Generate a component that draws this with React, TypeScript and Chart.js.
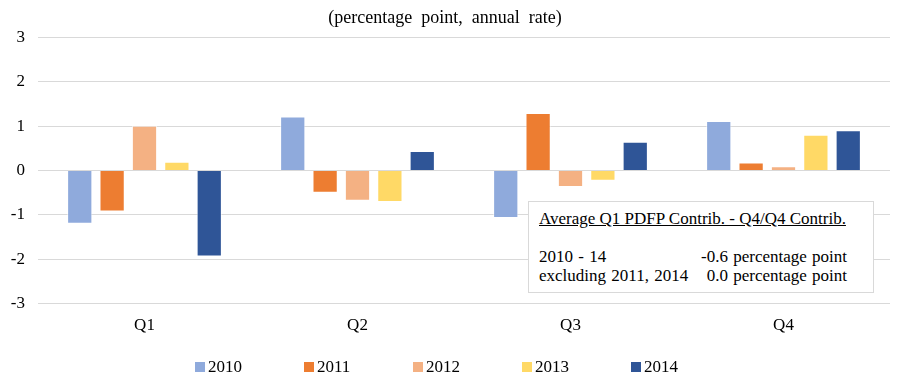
import React, { useEffect, useRef } from "react";
import { Chart, registerables } from "chart.js";

Chart.register(...registerables);

const categories = ["Q1", "Q2", "Q3", "Q4"];
const seriesNames = ["2010", "2011", "2012", "2013", "2014"];
const v2010 = [-1.2, 1.22, -1.07, 1.12];
const v2011 = [-0.92, -0.5, 1.3, 0.18];
const v2012 = [1.01, -0.68, -0.37, 0.1];
const v2013 = [0.2, -0.71, -0.23, 0.81];
const v2014 = [-1.94, 0.44, 0.65, 0.91];
const colors = ["#8FAADC", "#ED7D31", "#F4B183", "#FFD966", "#2F5597"];
const yTicks = [-3, -2, -1, 0, 1, 2, 3];
const titleText = "(percentage  point,  annual  rate)";
const noteHeading = "Average Q1 PDFP Contrib. - Q4/Q4 Contrib.";
const noteRows = [
  ["2010 - 14", "-0.6 percentage point"],
  ["excluding 2011, 2014", "0.0 percentage point"],
];

const FONT = '"Liberation Serif", "Times New Roman", serif';

export default function App() {
  const ref = useRef<HTMLCanvasElement | null>(null);
  useEffect(() => {
    document.body.style.margin = "0";
    Chart.defaults.font.family = FONT;
    const values = [v2010, v2011, v2012, v2013, v2014];
    let chart: Chart | null = null;
    let cancelled = false;
    const build = () => {
      if (cancelled || !ref.current) return;
      chart = new Chart(ref.current, {
        type: "bar",
        data: {
          labels: categories,
          datasets: seriesNames.map((n, i) => ({
            label: n,
            data: values[i],
            backgroundColor: colors[i],
            borderColor: "rgba(255,255,255,0.6)",
            borderWidth: 1,
            categoryPercentage: 0.76,
            barPercentage: 0.78,
          })),
        },
        options: {
          animation: false,
          responsive: false,
          maintainAspectRatio: false,
          layout: { padding: { left: 0, right: 13, top: 5, bottom: 49 } },
          plugins: {
            tooltip: { enabled: false },
            legend: { display: false },
            title: {
              display: true,
              text: titleText,
              color: "#000",
              font: { family: FONT, size: 18, weight: "normal" },
              padding: { top: 2, bottom: 9 },
            },
          },
          scales: {
            x: {
              grid: { display: false },
              border: { display: false },
              ticks: { color: "#000", font: { family: FONT, size: 17 }, padding: 4 },
            },
            y: {
              min: -3,
              max: 3,
              afterBuildTicks: (s: any) => {
                s.ticks = yTicks.map((v) => ({ value: v }));
              },
              afterFit: (s: any) => {
                s.width = 38;
              },
              grid: { color: "#D9D9D9", lineWidth: 1, drawTicks: false },
              border: { display: false },
              ticks: { color: "#000", font: { family: FONT, size: 17 }, padding: 13 },
            },
          },
        },
      });
    };
    const fontsApi = (document as any).fonts;
    if (fontsApi && fontsApi.load) {
      fontsApi.load('16px "Liberation Serif"').then(build, build);
    } else {
      build();
    }
    return () => {
      cancelled = true;
      if (chart) chart.destroy();
    };
  }, []);

  return (
    <div style={{ position: "relative", width: 903, height: 389, background: "#fff", fontFamily: FONT }}>
      <canvas ref={ref} width={903} height={389} style={{ display: "block" }} />
      <div
        style={{
          position: "absolute",
          left: 528,
          top: 201,
          width: 346,
          height: 92,
          border: "1px solid #D9D9D9",
          background: "#fff",
          boxSizing: "border-box",
          fontSize: 17,
          color: "#000",
        }}
      >
        <div style={{ position: "absolute", left: 10, top: 7, textDecoration: "underline", whiteSpace: "nowrap" }}>
          {noteHeading}
        </div>
        {noteRows.map((r, i) => (
          <div
            key={i}
            style={{
              position: "absolute",
              left: 10,
              right: 26,
              top: 45 + i * 19,
              display: "flex",
              justifyContent: "space-between",
              whiteSpace: "nowrap",
              wordSpacing: 1,
            }}
          >
            <span>{r[0]}</span>
            <span>{r[1]}</span>
          </div>
        ))}
      </div>
      <div
        style={{
          position: "absolute",
          left: 195,
          top: 356,
          display: "flex",
          alignItems: "center",
          fontSize: 17,
          color: "#000",
          lineHeight: "22px",
        }}
      >
        {seriesNames.map((n, i) => (
          <div key={n} style={{ width: 109, display: "flex", alignItems: "center" }}>
            <span style={{ width: 10, height: 10, background: colors[i], display: "inline-block", marginRight: 3 }} />
            <span>{n}</span>
          </div>
        ))}
      </div>
    </div>
  );
}
